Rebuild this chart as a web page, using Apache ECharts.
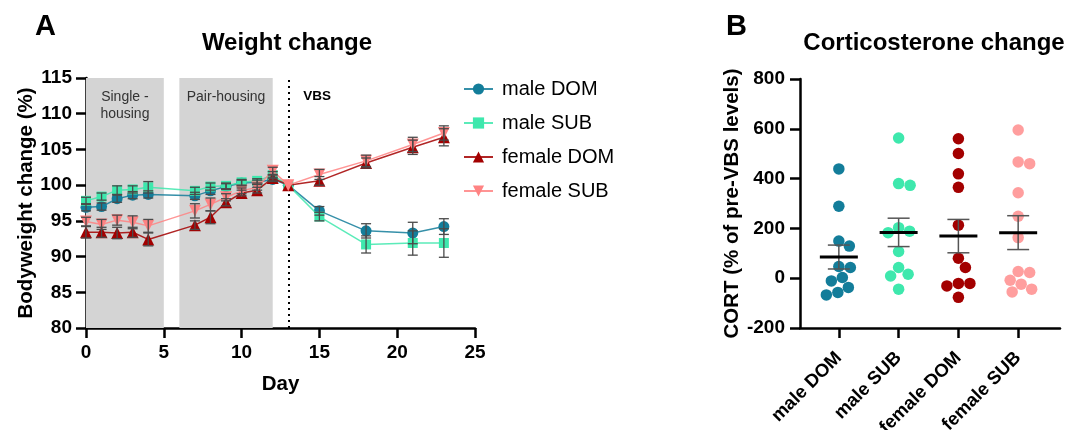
<!DOCTYPE html>
<html><head><meta charset="utf-8">
<script src="https://cdn.jsdelivr.net/npm/echarts@6/dist/echarts.min.js"></script>
<style>html,body{margin:0;padding:0;background:#fff}#c{width:1069px;height:430px}</style>
</head><body><div id="c"></div>
<script>
// ---- Panel A data: weight change (% of day 13) ----
const days = [0,1,2,3,4,7,8,9,10,11,12,13,15,18,21,23];
const maleDOM_w   = [96.9,97.0,98.1,98.6,98.7,98.5,99.2,99.8,100.3,100.4,100.8,100,96.4,93.6,93.3,94.2];
const maleDOM_sem = [0.5,0.5,0.5,0.5,0.5,0.5,0.5,0.4,0.4,0.3,0.3,0,0.6,1.0,1.5,1.1];
const maleSUB_w   = [97.8,98.4,99.3,99.4,99.7,99.2,99.8,99.9,100.4,100.6,101.4,100,95.6,91.7,91.9,91.9];
const maleSUB_sem = [0.5,0.5,0.6,0.5,0.8,0.5,0.5,0.4,0.4,0.3,0.5,0,0.6,1.2,1.7,2.0];
const femDOM_w    = [93.4,93.4,93.3,93.4,92.4,94.4,95.5,97.6,98.9,99.3,101.0,100,100.6,103.1,105.3,106.7];
const femDOM_sem  = [0.8,0.7,0.8,0.7,0.9,0.6,0.9,0.5,0.4,0.4,0.4,0,0.6,0.7,1.0,1.2];
const femSUB_w    = [94.9,94.5,95.1,94.8,94.3,96.4,97.3,98.3,99.2,99.7,102.0,100,101.5,103.4,105.7,107.3];
const femSUB_sem  = [0.6,0.7,0.7,0.9,0.9,1.0,0.9,0.5,0.4,0.4,0.5,0,0.7,0.8,1.0,1.0];
const phases = [['Single -\nhousing',0,5],['Pair-housing',6,12]];
const vbsDay = 13;

// ---- Panel B data: corticosterone change ----
const groups = ['male DOM','male SUB','female DOM','female SUB'];
const cortMaleDOM = [439,289,149,129,43,47,-11,3,-37,-57,-67];
const cortMaleSUB = [563,380,373,183,203,189,107,43,9,16,-44];
const cortFemDOM  = [560,501,419,365,213,80,43,-21,-21,-31,-77];
const cortFemSUB  = [595,460,467,343,249,163,23,27,-8,-24,-44,-55];
const cortMean = [85,184,169,183];
const cortSem  = [48,57,67,68];

const colors = ['#137d9a','#3ee8ad','#a30000','#ff8383'];
const colorsB = ['#137d9a','#3ee8ad','#a30000','#ff9e9e'];
const FONT = 'Liberation Sans, Arial, sans-serif';

// layout of panel B grid (used for swarm spacing)
const gB = {left:800, top:79, width:260, height:249};
const xBmin = -0.65, xBmax = 3.7, yBmin = -200, yBmax = 800;

function swarm(vals, dPx){
  const xU = gB.width/(xBmax-xBmin), yU = gB.height/(yBmax-yBmin);
  const order = vals.map((v,i)=>i).sort((a,b)=>vals[b]-vals[a]);
  const placed=[], off=new Array(vals.length);
  for(const i of order){
    const y = vals[i]*yU;
    let cand=0;
    for(let k=0;k<400;k++){
      cand = (k%2?1:-1)*Math.ceil(k/2)*0.5;
      if(placed.every(p=>(cand-p.x)**2+(y-p.y)**2>=dPx*dPx)) break;
    }
    placed.push({x:cand,y:y});
    off[i]=cand/xU;
  }
  return off;
}

const series = [];
const wData = [maleDOM_w,maleSUB_w,femDOM_w,femSUB_w];
const wSem = [maleDOM_sem,maleSUB_sem,femDOM_sem,femSUB_sem];
const symbols = ['circle','rect','triangle','triangle'];
const rot = [0,0,0,180];
const sizes = [11,10,12,12];

groups.forEach((g,gi)=>{
  const s = {
    name:g, type:'line', xAxisIndex:0, yAxisIndex:0,
    data: days.map((d,i)=>[d,wData[gi][i]]),
    symbol:symbols[gi], symbolRotate:rot[gi], symbolSize:sizes[gi],
    itemStyle:{color:colors[gi], opacity:1},
    lineStyle:{color:colors[gi], width:1.5, opacity:0.85},
    z: 5+gi
  };
  if(gi===0){
    s.markArea = {silent:true, itemStyle:{color:'#d4d4d4'},
      label:{show:true, position:'insideTop', distance:11, color:'#333', fontSize:14, fontFamily:FONT, lineHeight:17},
      data: phases.map(p=>[{name:p[0], xAxis:p[1]},{xAxis:p[2]}])};
    s.markLine = {silent:true, symbol:'none', label:{show:false},
      lineStyle:{color:'#000', type:[2,4], width:2}, data:[{xAxis:vbsDay}]};
    s.markPoint = {silent:true, symbol:'circle', symbolSize:0,
      label:{show:true, formatter:'VBS', position:'inside', fontWeight:'bold', fontSize:13.5, color:'#000', fontFamily:FONT},
      data:[{coord:[14.85,112.4]}]};
  }
  series.push(s);
});
// error bars panel A
groups.forEach((g,gi)=>{
  series.push({
    type:'custom', xAxisIndex:0, yAxisIndex:0, z:20, silent:true,
    data: days.map((d,i)=>[d,wData[gi][i],wSem[gi][i]]),
    renderItem:(params,api)=>{
      const x=api.value(0), m=api.value(1), e=api.value(2);
      if(!e) return null;
      const top=api.coord([x,m+e]), bot=api.coord([x,m-e]);
      const w=5, st={stroke:'#4a4a4a', lineWidth:1.3};
      return {type:'group', children:[
        {type:'line', shape:{x1:top[0],y1:top[1],x2:bot[0],y2:bot[1]}, style:st},
        {type:'line', shape:{x1:top[0]-w,y1:top[1],x2:top[0]+w,y2:top[1]}, style:st},
        {type:'line', shape:{x1:bot[0]-w,y1:bot[1],x2:bot[0]+w,y2:bot[1]}, style:st}
      ]};
    }
  });
});
// Panel B scatter
const cortData = [cortMaleDOM,cortMaleSUB,cortFemDOM,cortFemSUB];
cortData.forEach((vals,gi)=>{
  const off = swarm(vals,11.5);
  series.push({
    name:'CORT '+groups[gi], type:'scatter', xAxisIndex:1, yAxisIndex:1,
    data: vals.map((v,i)=>[gi+off[i], v]),
    symbolSize:11.5, itemStyle:{color:colorsB[gi], opacity:1}, z:5
  });
});
// mean and SEM panel B
series.push({
  type:'custom', xAxisIndex:1, yAxisIndex:1, z:10, silent:true,
  data: cortMean.map((m,i)=>[i,m,cortSem[i]]),
  renderItem:(params,api)=>{
    const x=api.value(0), m=api.value(1), e=api.value(2);
    const c=api.coord([x,m]), t=api.coord([x,m+e]), b=api.coord([x,m-e]);
    const st={stroke:'#555', lineWidth:1.5};
    return {type:'group', children:[
      {type:'line', shape:{x1:t[0],y1:t[1],x2:b[0],y2:b[1]}, style:st},
      {type:'line', shape:{x1:t[0]-11,y1:t[1],x2:t[0]+11,y2:t[1]}, style:st},
      {type:'line', shape:{x1:b[0]-11,y1:b[1],x2:b[0]+11,y2:b[1]}, style:st},
      {type:'line', shape:{x1:c[0]-19,y1:c[1],x2:c[0]+19,y2:c[1]}, style:{stroke:'#000', lineWidth:3}}
    ]};
  }
});

const axLine = {show:true, onZero:false, lineStyle:{color:'#000', width:2.5}};
const axTick = {show:true, inside:false, length:10, lineStyle:{color:'#000', width:2.5}};
const lblBold = {color:'#000', fontWeight:'bold', fontSize:19, fontFamily:FONT};
const nameStyle = {fontSize:20.5, fontWeight:'bold', color:'#000', fontFamily:FONT};

const option = {
  backgroundColor:'#fff',
  animation:false,
  textStyle:{fontFamily:FONT},
  title:[
    {text:'Weight change', left:282, top:26, textAlign:'center', textStyle:{fontSize:24, fontWeight:'bold', color:'#000', fontFamily:FONT}},
    {text:'Corticosterone change', left:929, top:26, textAlign:'center', textStyle:{fontSize:24, fontWeight:'bold', color:'#000', fontFamily:FONT}}
  ],
  graphic:[
    {type:'text', left:35, top:12, style:{text:'A', fontSize:29, fontWeight:'bold', fill:'#000', fontFamily:FONT}},
    {type:'text', left:726, top:12, style:{text:'B', fontSize:29, fontWeight:'bold', fill:'#000', fontFamily:FONT}}
  ],
  legend:{
    orient:'vertical', left:458, top:74, itemWidth:29, itemHeight:14, itemGap:14,
    data:groups, selectedMode:false,
    textStyle:{fontSize:20, color:'#000', fontFamily:FONT, padding:[0,0,0,4]}
  },
  grid:[
    {left:86, top:78, width:389, height:250, outerBoundsMode:'none', containLabel:false},
    {left:gB.left, top:gB.top, width:gB.width, height:gB.height, outerBoundsMode:'none', containLabel:false}
  ],
  xAxis:[
    {type:'value', gridIndex:0, min:0, max:25, interval:5,
      name:'Day', nameLocation:'middle', nameGap:46, nameTextStyle:nameStyle,
      axisLine:axLine, axisTick:axTick, splitLine:{show:false},
      axisLabel:Object.assign({margin:15}, lblBold)},
    {type:'value', gridIndex:1, min:xBmin, max:xBmax,
      axisLine:axLine, splitLine:{show:false},
      axisTick:Object.assign({customValues:[0,1,2,3]}, axTick),
      axisLabel:Object.assign({}, lblBold, {customValues:[0,1,2,3], rotate:45, margin:27, fontSize:18.5,
        formatter:v=>groups[Math.round(v)]})}
  ],
  yAxis:[
    {type:'value', gridIndex:0, min:80, max:115, interval:5,
      name:'Bodyweight change (%)', nameLocation:'middle', nameGap:49, nameTextStyle:nameStyle,
      axisLine:axLine, axisTick:axTick, splitLine:{show:false},
      axisLabel:Object.assign({margin:14}, lblBold)},
    {type:'value', gridIndex:1, min:yBmin, max:yBmax, interval:200,
      name:'CORT (% of pre-VBS levels)', nameLocation:'middle', nameGap:54, nameTextStyle:nameStyle,
      axisLine:axLine, axisTick:axTick, splitLine:{show:false},
      axisLabel:Object.assign({margin:15}, lblBold)}
  ],
  series:series
};
const chart = echarts.init(document.getElementById('c'), null, {renderer:'canvas'});
chart.setOption(option);
</script></body></html>
